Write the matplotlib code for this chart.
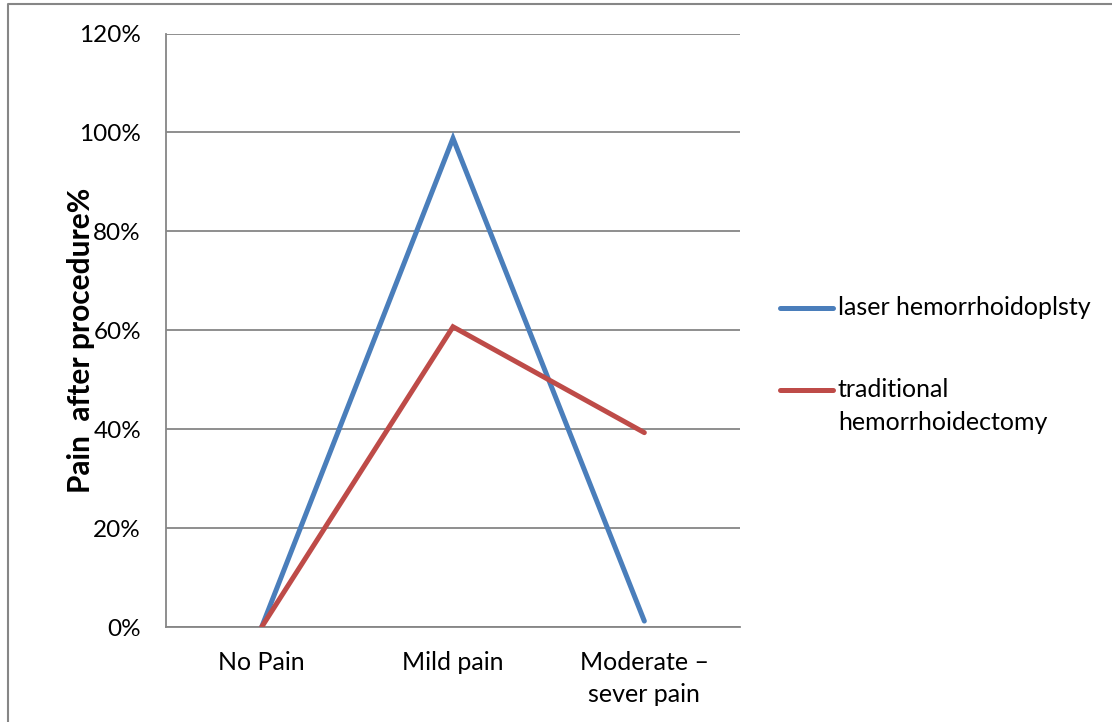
import matplotlib
matplotlib.use("Agg")
import matplotlib.pyplot as plt
from matplotlib.lines import Line2D
from matplotlib.ticker import FuncFormatter

categories = ["No Pain", "Mild pain", "Moderate \u2013\nsever pain"]
laser = [0.0, 98.8, 1.2]
traditional = [0.0, 60.7, 39.3]
series_names = ["laser hemorrhoidoplsty", "traditional\nhemorrhoidectomy"]
y_ticks = [0, 20, 40, 60, 80, 100, 120]

BLUE = "#4A7EBB"
RED = "#BE4B48"
GRID = "#868686"
FONT = "Lato"
FS = 18

plt.rcParams['font.family'] = [FONT, 'DejaVu Sans']

W, H = 1112, 722
fig = plt.figure(figsize=(W / 100, H / 100), dpi=100)
ax = fig.add_axes([166 / W, 1 - 627 / H, (740 - 166) / W, (627 - 33.5) / H])

x = list(range(len(categories)))
ax.plot(x, laser, color=BLUE, lw=3.6, solid_capstyle='round', solid_joinstyle='miter', zorder=3)
ax.plot(x, traditional, color=RED, lw=3.6, solid_capstyle='round', solid_joinstyle='miter', zorder=3)

ax.set_xlim(-0.5, len(categories) - 0.5)
ax.set_ylim(0, 120)
ax.set_yticks(y_ticks)
ax.yaxis.set_major_formatter(FuncFormatter(lambda v, p: f"{v:.0f}%"))
ax.grid(axis='y', color=GRID, lw=1.3)
ax.set_axisbelow(True)
ax.set_xticks(x)
ax.set_xticklabels(categories, fontsize=FS, linespacing=1.5, va='top')
ax.tick_params(axis='y', length=0, pad=18, labelsize=FS - 0.5)
ax.tick_params(axis='x', length=0, pad=17)

for side in ['top', 'right']:
    ax.spines[side].set_visible(False)
for side in ['left', 'bottom']:
    ax.spines[side].set_color(GRID)
    ax.spines[side].set_linewidth(1.3)
    ax.spines[side].set_zorder(1)

# y label sits a bit below the axis centre, as in the source chart
fig.text(81 / W, 1 - 340 / H, "Pain  after procedure%", fontsize=21.5,
         fontweight='bold', rotation=90, ha='center', va='center')

# legend drawn by hand so the handle sits on the first label line
legend_items = [(BLUE, series_names[0], 308), (RED, series_names[1], 390)]
for color, label, yp in legend_items:
    fig.add_artist(Line2D([780 / W, 833 / W], [1 - yp / H, 1 - yp / H],
                          transform=fig.transFigure, color=color, lw=3.6,
                          solid_capstyle='round'))
    fig.text(838 / W, 1 - (yp - 12) / H, label, fontsize=FS, va='top',
             ha='left', linespacing=1.5)

# outer chart frame
fig.add_artist(Line2D([8 / W, 8 / W, 1.0], [0.0, 1 - 4 / H, 1 - 4 / H],
                      transform=fig.transFigure, color=GRID, lw=1.5))

fig.savefig("out.png", dpi=100)
